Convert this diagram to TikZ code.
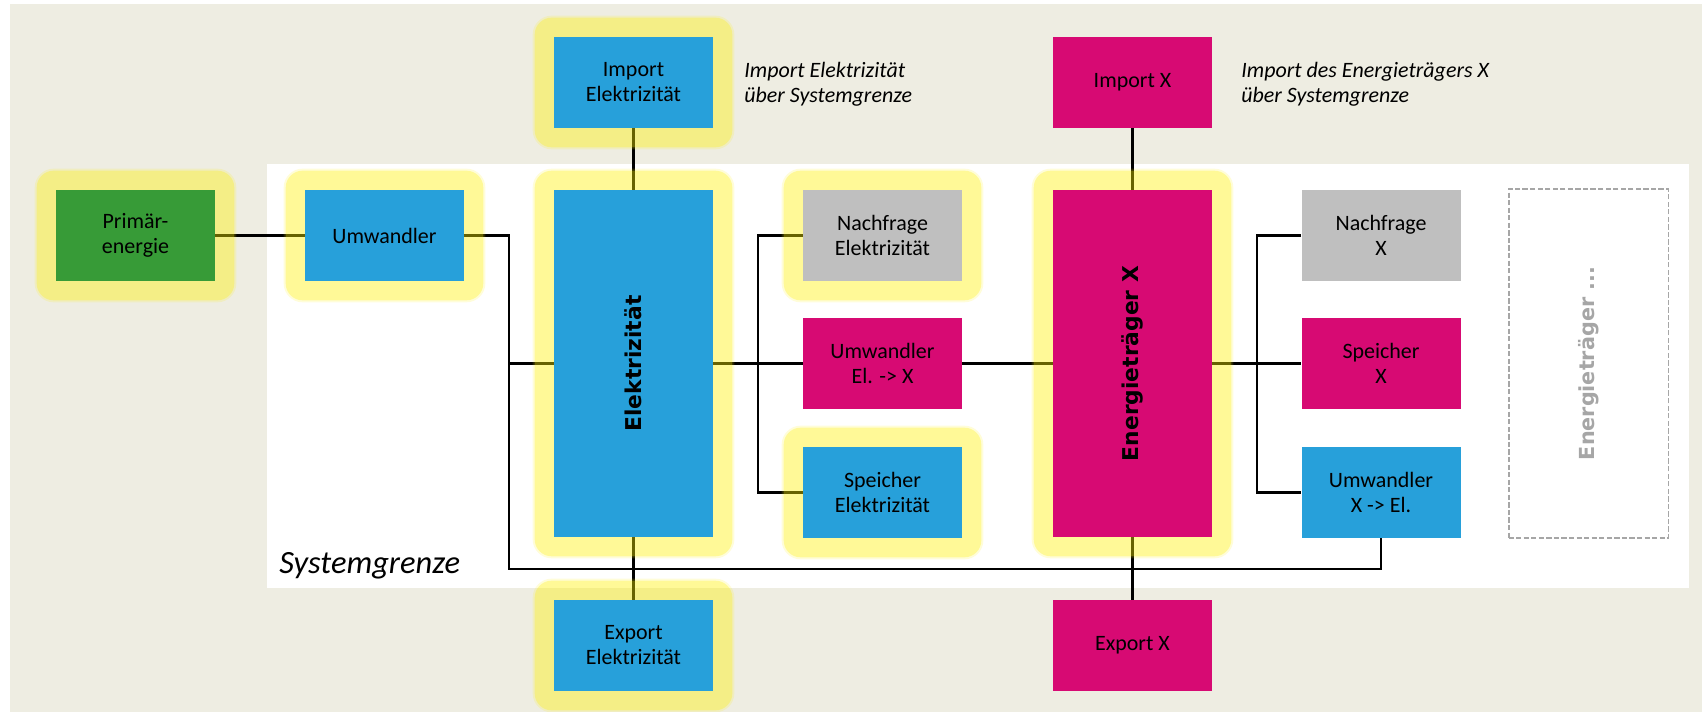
\documentclass[tikz,border=0pt]{standalone}
\usepackage{fontspec}
\setmainfont{Carlito}
\newfontfamily\headfont{DejaVu Sans}
\newcommand\vlabelfont{\headfont\bfseries\fontsize{12.4}{14}\selectfont}
\definecolor{BgBeige}{HTML}{EEEDE2}
\definecolor{ElBlue}{HTML}{27A0DA}
\definecolor{XMagenta}{HTML}{D70A73}
\definecolor{PrimGreen}{HTML}{379B37}
\definecolor{DemGray}{HTML}{BFBFBF}
\definecolor{DashGray}{HTML}{A6A6A6}
\pgfdeclarelayer{bg}
\pgfdeclarelayer{lines}
\pgfdeclarelayer{glowlayer}
\pgfsetlayers{bg,lines,glowlayer,main}

\tikzset{
  box/.style={rectangle, minimum width=3.18cm, minimum height=1.82cm, inner sep=0pt,
    align=center, font=\fontsize{12.5}{14.2}\selectfont},
  tallbox/.style={box, minimum height=6.94cm},
  link/.style={line width=1.4pt, black},
  halo/.style={fill=yellow, rounded corners=0.34cm},
  note/.style={anchor=west, inner sep=0pt, align=left, font=\fontsize{12.5}{14.2}\selectfont\itshape},
}

\begin{document}
\begin{tikzpicture}[x=0.02cm, y=-0.02cm]
    \useasboundingbox (0,0) rectangle (1702,712);
    % Hintergrund und Systemgrenze
    \begin{pgfonlayer}{bg}
        \fill[BgBeige] (10,4) rectangle (1702,712);
        \fill[white] (267,164) rectangle (1689,588);
    \end{pgfonlayer}

    % Elektrizitaet
    \node[box, fill=PrimGreen] (prim) at (135.5,235.5) {Primär-\\energie};
    \node[box, fill=ElBlue] (umw) at (384.5,235.5) {Umwandler};
    \node[box, fill=ElBlue] (impel) at (633.5,82.5) {Import\\Elektrizität};
    \node[tallbox, fill=ElBlue] (elek) at (633.5,363.5) {\rotatebox{90}{\vlabelfont Elektrizität}};
    \node[box, fill=ElBlue] (expel) at (633.5,645.5) {Export\\Elektrizität};
    \node[box, fill=DemGray] (nachel) at (882.5,235.5) {Nachfrage\\Elektrizität};
    \node[box, fill=XMagenta] (umwelx) at (882.5,363.5) {Umwandler\\El. -> X};
    \node[box, fill=ElBlue] (speichel) at (882.5,492.5) {Speicher\\Elektrizität};

    % Energietraeger X
    \node[box, fill=XMagenta] (impx) at (1132.5,82.5) {Import X};
    \node[tallbox, fill=XMagenta] (etx) at (1132.5,363.5) {\rotatebox{90}{\vlabelfont Energieträger X}};
    \node[box, fill=XMagenta] (expx) at (1132.5,645.5) {Export X};
    \node[box, fill=DemGray] (nachx) at (1381,235.5) {Nachfrage\\X};
    \node[box, fill=XMagenta] (speichx) at (1381,363.5) {Speicher\\X};
    \node[box, fill=ElBlue] (umwxel) at (1381,492.5) {Umwandler\\X -> El.};
    \node[tallbox, draw=DashGray, line width=1.1pt, dash pattern=on 3pt off 1.3pt,
        minimum width=3.2cm, minimum height=6.98cm] (etmore) at (1588.5,363.5)
        {\rotatebox{90}{\vlabelfont\fontsize{11.8}{14}\selectfont\color{DashGray}Energieträger ...}};

    % Beschriftungen
    \node[note] (noteel) at (744,84) {Import Elektrizität\\über Systemgrenze};
    \node[note] (notex) at (1241,84) {Import des Energieträgers X\\über Systemgrenze};
    \node[anchor=base west, inner sep=0pt, font=\fontsize{18.5}{22}\selectfont\itshape] (sysgr) at (279,573) {Systemgrenze};

    % Verbindungen
    \begin{pgfonlayer}{lines}
        \coordinate (busL) at (509,569);
        \coordinate (busM) at (758,363.5);
        \coordinate (busR) at (1257,363.5);
        \draw[link] (prim.east) -- (umw.west);
        \draw[link] (umw.east) -| (busL) -| (umwxel.south);
        \draw[link] (elek.west) -- (elek.west -| busL);
        \draw[link] (impel.south) -- (elek.north);
        \draw[link] (elek.south) -- (expel.north);
        \draw[link] (elek.east) -- (umwelx.west);
        \draw[link] (nachel.west) -| (busM) |- (speichel.west);
        \draw[link] (umwelx.east) -- (etx.west);
        \draw[link] (impx.south) -- (etx.north);
        \draw[link] (etx.south) -- (expx.north);
        \draw[link] (etx.east) -- (speichx.west);
        \draw[link] (nachx.west) -| (busR) |- (umwxel.west);
    \end{pgfonlayer}

    % Hervorhebung
    \begin{pgfonlayer}{glowlayer}
        \foreach \n in {prim,umw,impel,elek,expel,nachel,speichel,etx} {
            \fill[halo, fill opacity=0.15, rounded corners=0.38cm] ([shift={(-0.42cm,-0.42cm)}]\n.south west) rectangle ([shift={(0.42cm,0.42cm)}]\n.north east);
            \fill[halo, fill opacity=0.3] ([shift={(-0.38cm,-0.38cm)}]\n.south west) rectangle ([shift={(0.38cm,0.38cm)}]\n.north east);
        }
    \end{pgfonlayer}
\end{tikzpicture}
\end{document}
